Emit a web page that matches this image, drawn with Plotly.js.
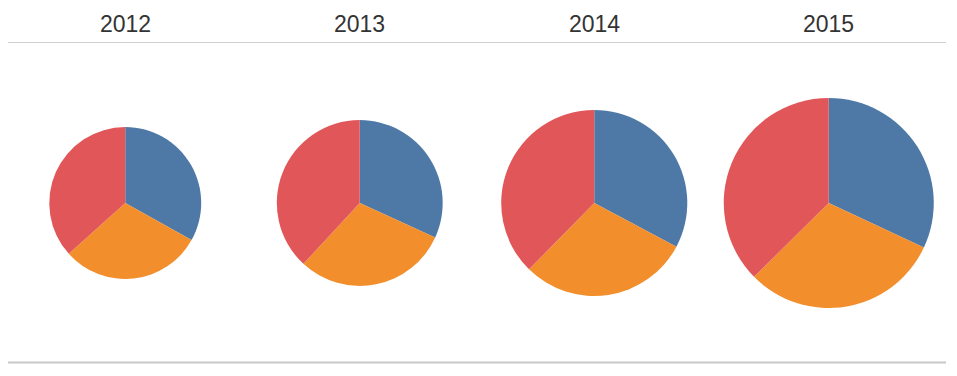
<!DOCTYPE html>
<html>
<head>
<meta charset="utf-8">
<script src="https://cdn.plot.ly/plotly-3.0.1.min.js"></script>
<style>html,body{margin:0;padding:0;background:#fff;}#chart{width:957px;height:376px;}</style>
</head>
<body>
<div id="chart"></div>
<script>
const years = ["2012", "2013", "2014", "2015"];
const categories = ["Furniture", "Office Supplies", "Technology"];
const colors = ["#4e79a7", "#f28e2b", "#e15759"];
const values2012 = [159, 145, 176];
const values2013 = [182, 172, 218];
const values2014 = [236, 213, 271];
const values2015 = [293, 281, 343];
const allValues = [values2012, values2013, values2014, values2015];

const W = 957, H = 376;
const left = 8, right = 946;
const colW = (right - left) / years.length;
const centerY = 203;
const maxR = 105;
const totals = allValues.map(v => v.reduce((a, b) => a + b, 0));
const maxTotal = Math.max(...totals);

const traces = allValues.map((vals, i) => {
  const r = maxR * Math.sqrt(totals[i] / maxTotal);
  const cx = left + colW * (i + 0.5);
  return {
    type: "pie",
    labels: categories,
    values: vals,
    sort: false,
    direction: "clockwise",
    rotation: 0,
    textinfo: "none",
    marker: {colors: colors, line: {width: 0}},
    domain: {
      x: [(cx - r) / W, (cx + r) / W],
      y: [(H - centerY - r) / H, (H - centerY + r) / H]
    },
    name: years[i],
    showlegend: false
  };
});

const annotations = years.map((y, i) => ({
  text: y,
  xref: "paper", yref: "paper",
  x: (left + colW * (i + 0.5)) / W,
  y: 1 - 24 / H,
  xanchor: "center", yanchor: "middle",
  showarrow: false,
  font: {family: "Liberation Sans, Arial, sans-serif", size: 23, color: "#333333"}
}));

const layout = {
  width: W, height: H,
  margin: {l: 0, r: 0, t: 0, b: 0},
  paper_bgcolor: "#ffffff",
  plot_bgcolor: "#ffffff",
  showlegend: false,
  annotations: annotations,
  shapes: [
    {type: "line", xref: "paper", yref: "paper", x0: left / W, x1: right / W, y0: 1 - 42.5 / H, y1: 1 - 42.5 / H, line: {color: "#d0d0d0", width: 1}},
    {type: "line", xref: "paper", yref: "paper", x0: left / W, x1: right / W, y0: 1 - 362.5 / H, y1: 1 - 362.5 / H, line: {color: "#c8c8c8", width: 2}}
  ]
};

Plotly.newPlot("chart", traces, layout, {displayModeBar: false, staticPlot: true});
</script>
</body>
</html>
